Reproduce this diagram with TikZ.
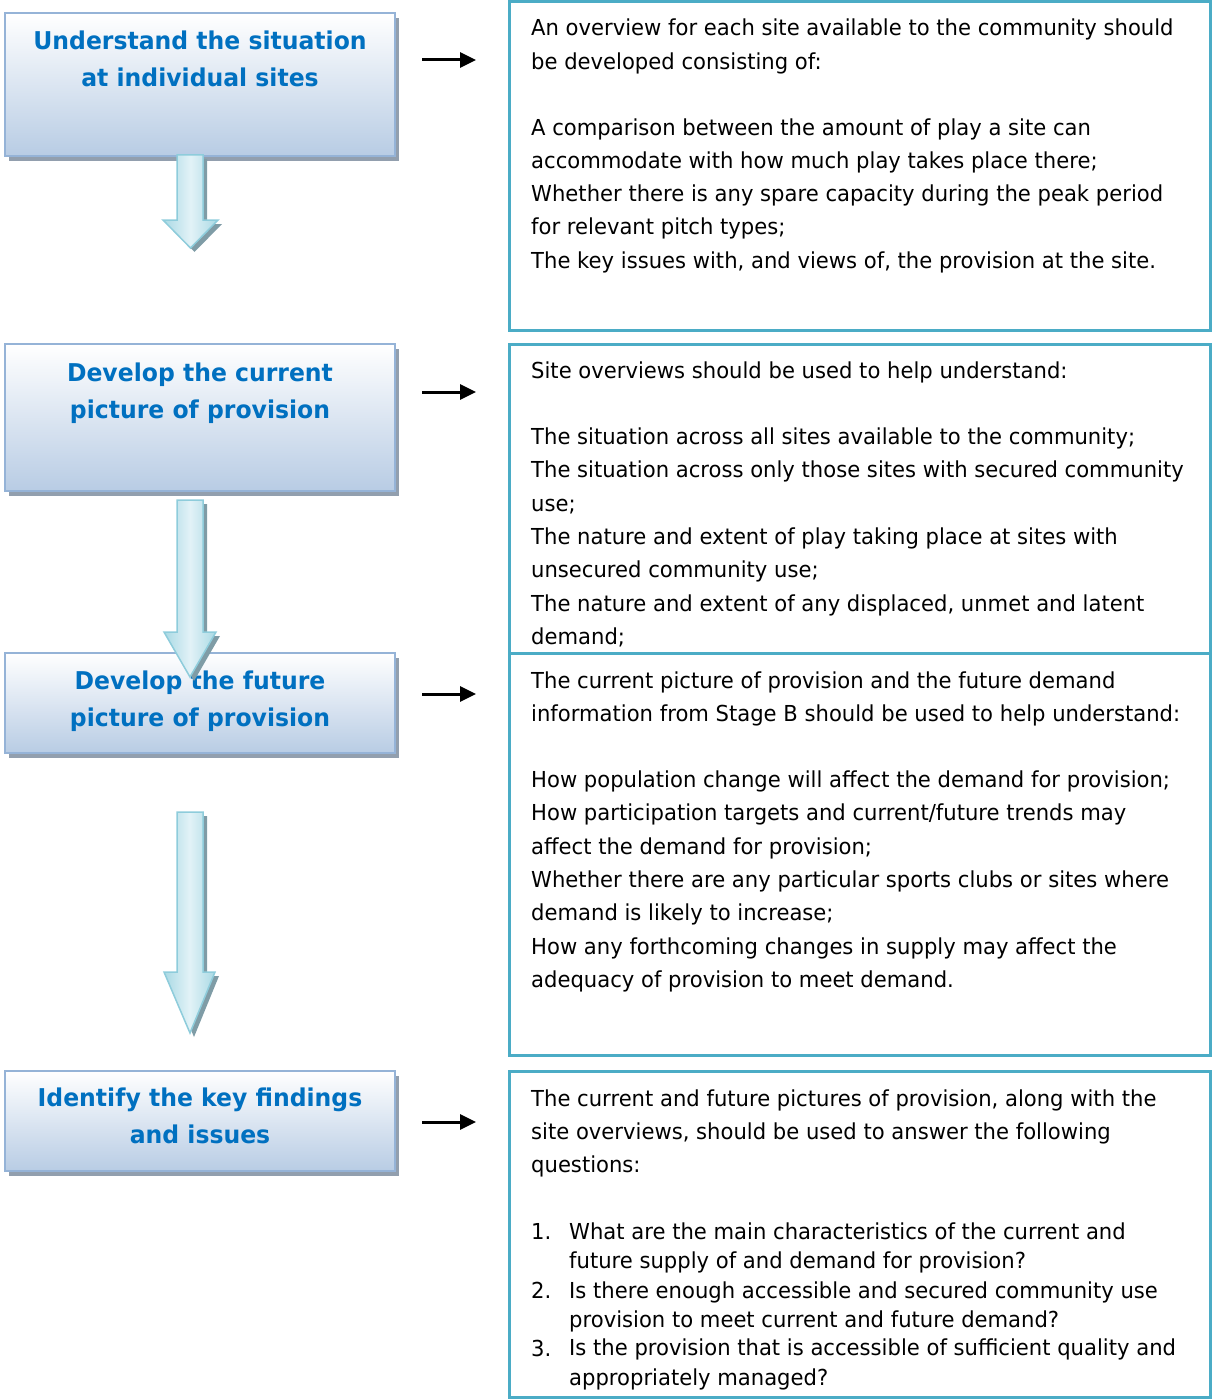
\documentclass[tikz,border=0pt]{standalone}
\usepackage{fontspec}
\setmainfont{DejaVu Sans}
\newfontfamily\bodyfont[FakeStretch=0.96]{DejaVu Sans}
\newfontfamily\headfont[FakeStretch=0.96]{DejaVu Sans}
\usetikzlibrary{arrows.meta,shadows,calc}
\definecolor{headblue}{HTML}{0070C0}
\definecolor{boxbot}{HTML}{B8CCE4}
\definecolor{boxedge}{HTML}{95B3D7}
\definecolor{boxshadow}{HTML}{929FAE}
\definecolor{tealedge}{HTML}{4BACC6}
\definecolor{arrfillA}{HTML}{A9D9E4}
\definecolor{arrfillB}{HTML}{E2F2F7}
\definecolor{arredge}{HTML}{8ECCDB}
\definecolor{arrshadow}{HTML}{7F9CA6}
\tikzset{
  stagebox/.style={draw=boxedge, line width=2pt, top color=white, bottom color=boxbot,
    minimum width=390pt, inner sep=0pt,
    drop shadow={shadow xshift=4pt, shadow yshift=-5pt, fill=boxshadow, opacity=1}},
  headtext/.style={text=headblue, align=center, inner sep=0pt,
    font={\headfont\bfseries\fontsize{24.5}{37}\selectfont}},
  infobox/.style={draw=tealedge, line width=3pt, minimum width=701pt, inner sep=0pt},
  bodytext/.style={align=left, inner sep=0pt, anchor=base west,
    font={\bodyfont\fontsize{22}{33.3}\selectfont}},
  listtext/.style={align=left, inner sep=0pt, anchor=base west,
    font={\bodyfont\fontsize{22}{29.2}\selectfont}},
  sidearrow/.style={line width=3pt, -{Triangle[length=16pt,width=15pt]}},
  downarrow/.style={draw=arredge, line width=1.5pt, left color=arrfillA, right color=arrfillA, middle color=arrfillB},
  downshadow/.style={fill=arrshadow},
}
\begin{document}
\begin{tikzpicture}[x=1pt,y=-1pt]
\useasboundingbox (0,0) rectangle (1212,1399);

% right boxes
\node[infobox, minimum height=328pt] (R1) at (859.5,166) {};
\node[infobox, minimum height=309pt] (R2) at (859.5,498.5) {};
\node[infobox, minimum height=402pt] (R3) at (859.5,854) {};
\node[infobox, minimum height=326pt] (R4) at (859.5,1234) {};

% right texts (anchored at the baseline of their last line)
\node[bodytext] (R1a) at (531,69.3) {An overview for each site available to the community should\\be developed consisting of:};
\node[bodytext] (R1b) at (531,268.2) {A comparison between the amount of play a site can\\accommodate with how much play takes place there;\\Whether there is any spare capacity during the peak period\\for relevant pitch types;\\The key issues with, and views of, the provision at the site.};
\node[bodytext] (R2a) at (531,378) {Site overviews should be used to help understand:};
\node[bodytext] (R2b) at (531,644.4) {The situation across all sites available to the community;\\The situation across only those sites with secured community\\use;\\The nature and extent of play taking place at sites with\\unsecured community use;\\The nature and extent of any displaced, unmet and latent\\demand;};
\node[bodytext] (R3a) at (531,721.3) {The current picture of provision and the future demand\\information from Stage B should be used to help understand:};
\node[bodytext] (R3b) at (531,987.3) {How population change will affect the demand for provision;\\How participation targets and current/future trends may\\affect the demand for provision;\\Whether there are any particular sports clubs or sites where\\demand is likely to increase;\\How any forthcoming changes in supply may affect the\\adequacy of provision to meet demand.};
\node[bodytext] (R4a) at (531,1172.6) {The current and future pictures of provision, along with the\\site overviews, should be used to answer the following\\questions:};
\node[listtext] (R4n1) at (531,1239) {1.};
\node[listtext] (R4i1) at (569,1268.2) {What are the main characteristics of the current and\\future supply of and demand for provision?};
\node[listtext] (R4n2) at (531,1298) {2.};
\node[listtext] (R4i2) at (569,1327.2) {Is there enough accessible and secured community use\\provision to meet current and future demand?};
\node[listtext] (R4n3) at (531,1356) {3.};
\node[listtext] (R4i3) at (569,1385) {Is the provision that is accessible of sufficient quality and\\appropriately managed?};

% left boxes
\node[stagebox, minimum height=143pt] (L1) at (200,84.5) {};
\node[stagebox, minimum height=147pt] (L2) at (200,417.5) {};
\node[stagebox, minimum height=100pt] (L3) at (200,703) {};
\node[stagebox, minimum height=100pt] (L4) at (200,1121) {};
\node[headtext, anchor=base] (L1t) at (200,87) {Understand the situation\\at individual sites};
\node[headtext, anchor=base] (L2t) at (200,418) {Develop the current\\picture of provision};
\node[headtext, anchor=base] (L3t) at (200,726) {Develop the future\\picture of provision};
\node[headtext, anchor=base] (L4t) at (200,1143) {Identify the key findings\\and issues};

% down arrows
\fill[downshadow] (181,159) -- (207,159) -- (207,224) -- (222,224) -- (194.5,252) -- (167,224) -- (181,224) -- cycle;
\path[downarrow] (177,155) -- (203,155) -- (203,220) -- (218,220) -- (190.5,248) -- (163,220) -- (177,220) -- cycle;

\fill[downshadow] (181,504) -- (207,504) -- (207,636) -- (220,636) -- (194,681) -- (168,636) -- (181,636) -- cycle;
\path[downarrow] (177,500) -- (203,500) -- (203,632) -- (216,632) -- (190,677) -- (164,632) -- (177,632) -- cycle;

\fill[downshadow] (181,816) -- (207,816) -- (207,976) -- (219,976) -- (194,1037) -- (168,976) -- (181,976) -- cycle;
\path[downarrow] (177,812) -- (203,812) -- (203,972) -- (215,972) -- (190,1033) -- (164,972) -- (177,972) -- cycle;

% side arrows
\coordinate (k1a) at (422,60);  \coordinate (k1b) at (476,60);
\coordinate (k2a) at (422,392); \coordinate (k2b) at (476,392);
\coordinate (k3a) at (422,694); \coordinate (k3b) at (476,694);
\coordinate (k4a) at (422,1122); \coordinate (k4b) at (476,1122);
\draw[sidearrow] (k1a) -- (k1b);
\draw[sidearrow] (k2a) -- (k2b);
\draw[sidearrow] (k3a) -- (k3b);
\draw[sidearrow] (k4a) -- (k4b);
\end{tikzpicture}
\end{document}
